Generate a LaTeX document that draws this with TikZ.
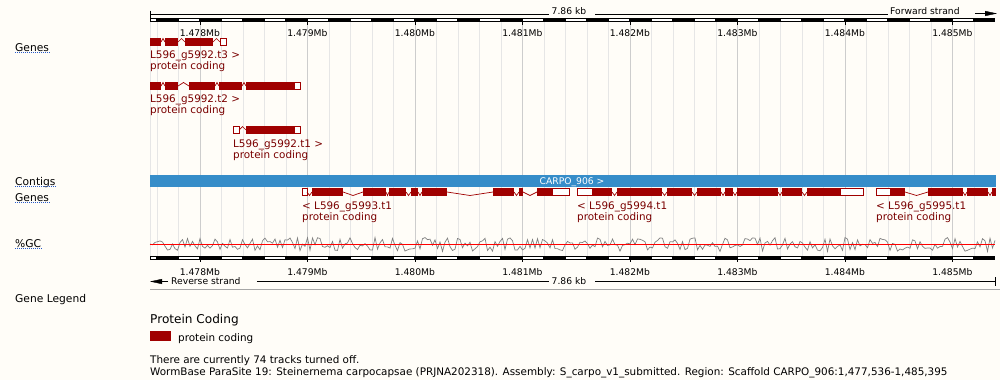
\documentclass[tikz,border=0pt]{standalone}
\usepackage{fontspec}
\setmainfont{DejaVu Sans}
\usetikzlibrary{arrows.meta}
\definecolor{pagebg}{RGB}{255,253,248}
\definecolor{exonred}{RGB}{160,0,0}
\definecolor{labred}{RGB}{122,0,0}
\definecolor{contigblue}{RGB}{54,141,201}
\definecolor{gridminor}{RGB}{230,230,230}
\definecolor{gridmajor}{RGB}{205,205,205}
\definecolor{linkblue}{RGB}{40,90,200}

\begin{document}
\begin{tikzpicture}[x=1pt,y=-1pt,
    exon/.style={fill=exonred},
    utr/.style={draw=exonred,fill=white,line width=1pt},
    intron/.style={draw=exonred,line width=0.7pt},
    glabel/.style={anchor=base west,inner sep=0pt,text=labred,font=\fontsize{10.4}{12}\selectfont},
    tracklab/.style={anchor=base west,inner sep=0pt,font=\fontsize{10.7}{12}\selectfont},
    ticklab/.style={anchor=base,inner sep=0pt,font=\fontsize{9.2}{11}\selectfont},
    infotext/.style={anchor=base west,inner sep=0pt,font=\fontsize{10.4}{12}\selectfont},
    dotline/.style={draw=linkblue,line width=0.8pt,dash pattern=on 1pt off 1pt},
    strandarrow/.style={-{Triangle[length=12pt,width=5pt]}}]

  % page and bounding box
  \fill[pagebg] (0,0) rectangle (1000,380);
  \useasboundingbox (0,0) rectangle (1000,380);

  % grid lines
  \draw[gridminor] (150.5,22) -- (150.5,255.5);
  \foreach \k in {0,...,38}
    \draw[gridminor] ({156.88+21.5*\k},22) -- ({156.88+21.5*\k},255.5);
  \foreach \m in {478,...,485} {
    \pgfmathsetmacro\mx{150+107.5*(\m-477.536)}
    \draw[gridmajor] (\mx,22) -- (\mx,255.5);
    \draw (\mx,22) -- (\mx,24.5);
    \draw (\mx,259.5) -- (\mx,262);
    \node[ticklab] (top\m) at (\mx,36) {1.\m Mb};
    \node[ticklab] (bot\m) at (\mx,275) {1.\m Mb};
  }

  % scale bars
  \foreach \y in {18,255.5} {
    \fill (150,\y) rectangle (995,\y+4);
    \fill[white] (151,\y+1) rectangle (156.4,\y+3);
    \foreach \j in {2,4,...,38}
      \fill[white] ({135.88+21.5*\j},\y+1) rectangle ({155.88+21.5*\j},\y+3);
  }

  % forward strand ruler
  \coordinate (tl) at (150,14);
  \coordinate (tr) at (997,13.5);
  \node[ticklab] (kbtop) at (569,14) {7.86 kb};
  \node[ticklab,anchor=base west] (fwd) at (890,14) {Forward strand};
  \draw (150,10.5) -- (150,17.5);
  \draw (tl) -- ([xshift=-3pt]kbtop.west |- tl);
  \draw ([xshift=9pt]kbtop.east |- tl) -- ([xshift=-2pt]fwd.west |- tl);
  \draw[strandarrow] ([xshift=15pt]fwd.east |- tr) -- (tr);

  % reverse strand ruler
  \coordinate (bl) at (150,281.5);
  \coordinate (br) at (995,281.5);
  \node[ticklab,anchor=base west] (rev) at (171,284) {Reverse strand};
  \node[ticklab] (kbbot) at (569,284) {7.86 kb};
  \draw[strandarrow] ([xshift=-3pt]rev.west |- bl) -- (bl);
  \draw ([xshift=16pt]rev.east |- bl) -- ([xshift=-3pt]kbbot.west |- bl);
  \draw ([xshift=9pt]kbbot.east |- br) -- (br);
  \draw (995,277) -- (995,286);
  \draw[gray!70] (150,289.5) -- (1000,289.5);

  % track names
  \foreach \t/\y/\n in {Genes/51.3/gf,Contigs/185/ct,Genes/201.3/gr,\%GC/247.3/gc} {
    \node[tracklab] (\n) at (15,\y) {\t};
    \draw[dotline] ([yshift=-1.5pt]\n.base west) -- ([yshift=-1.5pt]\n.base east);
  }
  \node[tracklab] (legend) at (15,302) {Gene Legend};

  % forward transcripts
  \foreach \a/\b in {150/161,165/178,185/213} \fill[exon] (\a,38) rectangle (\b,46);
  \foreach \a/\b in {161/165,178/185,213/220} \draw[intron] (\a,42) -- ({(\a+\b)/2},38.5) -- (\b,42);
  \draw[utr] (220.5,38.5) rectangle (226.5,45.5);

  \foreach \a/\b in {150/161,165/178,189/215,219/242,246/294} \fill[exon] (\a,82) rectangle (\b,90);
  \foreach \a/\b in {161/165,178/189,215/219,242/246} \draw[intron] (\a,86) -- ({(\a+\b)/2},82.5) -- (\b,86);
  \draw[utr] (294.5,82.5) rectangle (300.5,89.5);

  \draw[utr] (233.5,126.5) rectangle (239,133.5);
  \draw[intron] (239,130) -- (242.5,126.5) -- (246,130);
  \fill[exon] (246,126) rectangle (294,134);
  \draw[utr] (294.5,126.5) rectangle (300.5,133.5);

  \foreach \x/\y/\n in {150/58.5/t3,150/102.5/t2,233/147/t1} {
    \node[glabel] (l\n) at (\x,\y) {L596\_g5992.\n\ >};
    \node[glabel] (p\n) at ([yshift=-11pt]l\n.base west) {protein coding};
  }

  % contig
  \fill[contigblue] (150,175) rectangle (996,186.5);
  \node[ticklab,text=white] (contig) at (572,184.3) {CARPO\_906 >};

  % reverse transcripts
  \draw[utr] (302.5,188.5) rectangle (307,195.5);
  \foreach \a/\b in {312/343,363/386,389/406,411/418,422/447,493/514,519/523,537/552}
    \fill[exon] (\a,188) rectangle (\b,196);
  \foreach \a/\b in {307/312,343/363,386/389,406/411,418/422,447/493,514/519,523/537}
    \draw[intron] (\a,192) -- ({(\a+\b)/2},195.5) -- (\b,192);
  \draw[utr] (552,188.5) rectangle (569.5,195.5);

  \draw[utr] (577.5,188.5) rectangle (592,195.5);
  \foreach \a/\b in {592/612,617/662,667/692,697/721,725/733,737/778,782/802,807/840}
    \fill[exon] (\a,188) rectangle (\b,196);
  \foreach \a/\b in {612/617,662/667,692/697,721/725,733/737,778/782,802/807}
    \draw[intron] (\a,192) -- ({(\a+\b)/2},195.5) -- (\b,192);
  \draw[utr] (840,188.5) rectangle (863,195.5);

  \draw[utr] (876.5,188.5) rectangle (890,195.5);
  \foreach \a/\b in {890/905,928/963,967/988,992/996}
    \fill[exon] (\a,188) rectangle (\b,196);
  \foreach \a/\b in {905/928,963/967,988/992}
    \draw[intron] (\a,192) -- ({(\a+\b)/2},195.5) -- (\b,192);

  \foreach \x/\n in {302/3,577/4,876/5} {
    \node[glabel] (r\n) at (\x,209) {< L596\_g599\n.t1};
    \node[glabel] (q\n) at ([yshift=-11pt]r\n.base west) {protein coding};
  }

  % GC content
  \pgfmathsetseed{11}
  \draw[gray,line width=0.7pt] (150,244) \foreach \i in {1,...,338} { -- ({150+2.5*\i},{244.5+7*rand}) };
  \draw[red,line width=0.8pt] (150,244.3) -- (995,244.3);

  % legend and footer
  \node[infotext,font=\fontsize{12.1}{14}\selectfont] (pchead) at (150,323.5) {Protein Coding};
  \fill[exonred] (150,330.5) rectangle (171,341);
  \node[infotext] (pcitem) at (178,341.5) {protein coding};
  \node[infotext] (tracksoff) at (150,363) {There are currently 74 tracks turned off.};
  \node[infotext] (footer) at (150,375) {WormBase ParaSite 19: Steinernema carpocapsae (PRJNA202318). Assembly: S\_carpo\_v1\_submitted. Region: Scaffold CARPO\_906:1,477,536-1,485,395};
\end{tikzpicture}
\end{document}
